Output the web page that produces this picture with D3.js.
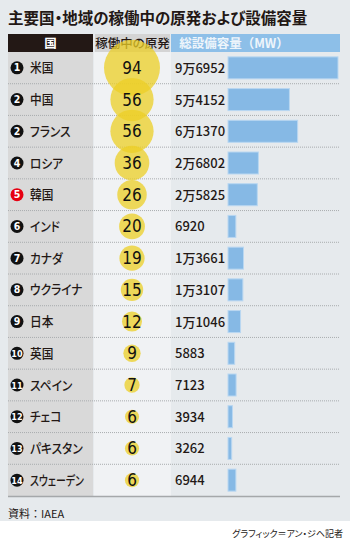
<!DOCTYPE html>
<html>
<head>
<meta charset="utf-8">
<script src="https://cdn.jsdelivr.net/npm/d3@7"></script>
<style>
  body { margin: 0; background: #fff; }
  text { font-family: "Noto Sans CJK JP", sans-serif; }
  .num { font-family: "Liberation Sans Narrow", "DejaVu Sans Condensed", sans-serif; }
  .palt { font-feature-settings: "palt"; }
</style>
</head>
<body>
<div id="chart"></div>
<script>
// data
var ranks = ["1", "2", "2", "4", "5", "6", "7", "8", "9", "10", "11", "12", "13", "14"];
var countries = ["米国", "中国", "フランス", "ロシア", "韓国", "インド", "カナダ", "ウクライナ", "日本", "英国", "スペイン", "チェコ", "パキスタン", "スウェーデン"];
var reactors = [94, 56, 56, 36, 26, 20, 19, 15, 12, 9, 7, 6, 6, 6];
var capacity = [96952, 54152, 61370, 26802, 25825, 6920, 13661, 13107, 11046, 5883, 7123, 3934, 3262, 6944];
var capLabels = ["9万6952", "5万4152", "6万1370", "2万6802", "2万5825", "6920", "1万3661", "1万3107", "1万1046", "5883", "7123", "3934", "3262", "6944"];
var headers = ["国", "稼働中の原発", "総設備容量（MW）"];

var svgWidth = 350, svgHeight = 539;

var svg = d3.select("#chart")
  .append("svg")
  .attr("width", svgWidth)
  .attr("height", svgHeight);

// page background
svg.append("rect")
  .attr("width", svgWidth).attr("height", 521)
  .attr("fill", "#e6eaed");

// title
svg.append("text")
  .attr("class", "palt")
  .attr("x", 8).attr("y", 24)
  .style("font-size", "15.5px")
  .style("font-weight", "bold")
  .attr("fill", "#231815")
  .text("主要国・地域の稼働中の原発および設備容量");

// header cells
var headCells = [
  {x: 8, w: 85, fill: "#231815", color: "#fff", tx: 50.5, palt: true},
  {x: 95, w: 75, fill: "#d4d4d4", color: "#231815", tx: 132.5, palt: true},
  {x: 171, w: 169, fill: "#8dbfe8", color: "#eef5fb", tx: 234, palt: false}
];
headCells.forEach(function(c, i) {
  svg.append("rect")
    .attr("x", c.x).attr("y", 34).attr("width", c.w).attr("height", 18)
    .attr("fill", c.fill);
  svg.append("text")
    .attr("class", c.palt ? "palt" : null)
    .attr("x", c.tx).attr("y", 47.5)
    .attr("text-anchor", "middle")
    .attr("fill", c.color)
    .style("font-size", "12.5px")
    .style("font-weight", i == 1 ? "500" : "bold")
    .text(headers[i]);
});

// row scale
var y = d3.scaleBand()
  .domain(countries)
  .range([52, 496]);

// column backgrounds
svg.append("rect")
  .attr("x", 8).attr("y", 52).attr("width", 85).attr("height", 444)
  .attr("fill", "#d9d9d9");
svg.append("rect")
  .attr("x", 94).attr("y", 52).attr("width", 77).attr("height", 444)
  .attr("fill", "#f0f2f4");

// dotted dividers
svg.selectAll(".divider")
  .data(countries.slice(0, -1))
  .enter()
  .append("line")
  .attr("x1", 8).attr("x2", 340)
  .attr("y1", d => y(d) + y.bandwidth())
  .attr("y2", d => y(d) + y.bandwidth())
  .attr("stroke", "#a9acae")
  .attr("stroke-width", 1)
  .attr("stroke-dasharray", "1,1");

svg.append("line")
  .attr("x1", 8).attr("x2", 340)
  .attr("y1", 496.5).attr("y2", 496.5)
  .attr("stroke", "#a5a8aa")
  .attr("stroke-width", 1.5);

var rows = countries.map(function(c, i) {
  return {rank: ranks[i], name: c, n: reactors[i], cap: capacity[i], label: capLabels[i]};
});

// rank badges + names
svg.selectAll(".badge")
  .data(rows)
  .enter()
  .append("circle")
  .attr("cx", 17)
  .attr("cy", d => y(d.name) + y.bandwidth() / 2)
  .attr("r", 6.5)
  .attr("fill", d => d.rank == "5" ? "#e60012" : "#111");

svg.selectAll(".rank")
  .data(rows)
  .enter()
  .append("text")
  .attr("class", "num")
  .attr("x", 17)
  .attr("y", d => y(d.name) + y.bandwidth() / 2 + 3.5)
  .attr("text-anchor", "middle")
  .attr("fill", "#fff")
  .style("font-size", d => d.rank.length > 1 ? "9px" : "10.5px")
  .style("font-weight", "bold")
  .text(d => d.rank);

// names: condensed like the original, long katakana squeezed to fit the column
svg.selectAll(".name")
  .data(rows)
  .enter()
  .append("text")
  .attr("class", "palt")
  .attr("x", 30)
  .attr("y", d => y(d.name) + y.bandwidth() / 2 + 4.5)
  .attr("fill", "#231815")
  .style("font-size", "13px")
  .style("font-weight", "500")
  .text(d => d.name)
  .each(function() {
    var w = this.getComputedTextLength() * 0.9;
    d3.select(this)
      .attr("textLength", Math.min(w, 54))
      .attr("lengthAdjust", "spacingAndGlyphs");
  });

// reactor bubbles
var r = d3.scaleSqrt()
  .domain([0, d3.max(reactors)])
  .range([0, 28]);

svg.selectAll(".bubble")
  .data(rows)
  .enter()
  .append("circle")
  .attr("cx", 132)
  .attr("cy", d => y(d.name) + y.bandwidth() / 2)
  .attr("r", d => r(d.n))
  .attr("fill", "#eccf26")
  .attr("opacity", 0.75);

svg.selectAll(".bubbleText")
  .data(rows)
  .enter()
  .append("text")
  .attr("class", "num")
  .attr("x", 132)
  .attr("y", d => y(d.name) + y.bandwidth() / 2 + 6)
  .attr("text-anchor", "middle")
  .attr("fill", "#111")
  .style("font-size", "17px")
  .text(d => d.n);

// capacity labels and bars
var x = d3.scaleLinear()
  .domain([0, d3.max(capacity)])
  .range([0, 110]);

svg.selectAll(".capLabel")
  .data(rows)
  .enter()
  .append("text")
  .attr("x", 175)
  .attr("y", d => y(d.name) + y.bandwidth() / 2 + 5)
  .attr("fill", "#231815")
  .style("font-size", "13px")
  .style("font-weight", "500")
  .text(d => d.label);

svg.selectAll(".bar")
  .data(rows)
  .enter()
  .append("rect")
  .attr("x", 228)
  .attr("y", d => y(d.name) + y.bandwidth() / 2 - 11)
  .attr("width", d => x(d.cap))
  .attr("height", 22)
  .attr("fill", "#86b9e5")
  .attr("stroke", "#b9d7f1")
  .attr("stroke-width", 1);

// source + credit
svg.append("text")
  .attr("x", 8).attr("y", 518)
  .attr("fill", "#231815")
  .style("font-size", "11px")
  .text("資料：IAEA");

svg.append("text")
  .attr("class", "palt")
  .attr("x", 343).attr("y", 537)
  .attr("text-anchor", "end")
  .attr("fill", "#231815")
  .style("font-size", "9px")
  .text("グラフィック＝アン・ジヘ記者");
</script>
</body>
</html>
